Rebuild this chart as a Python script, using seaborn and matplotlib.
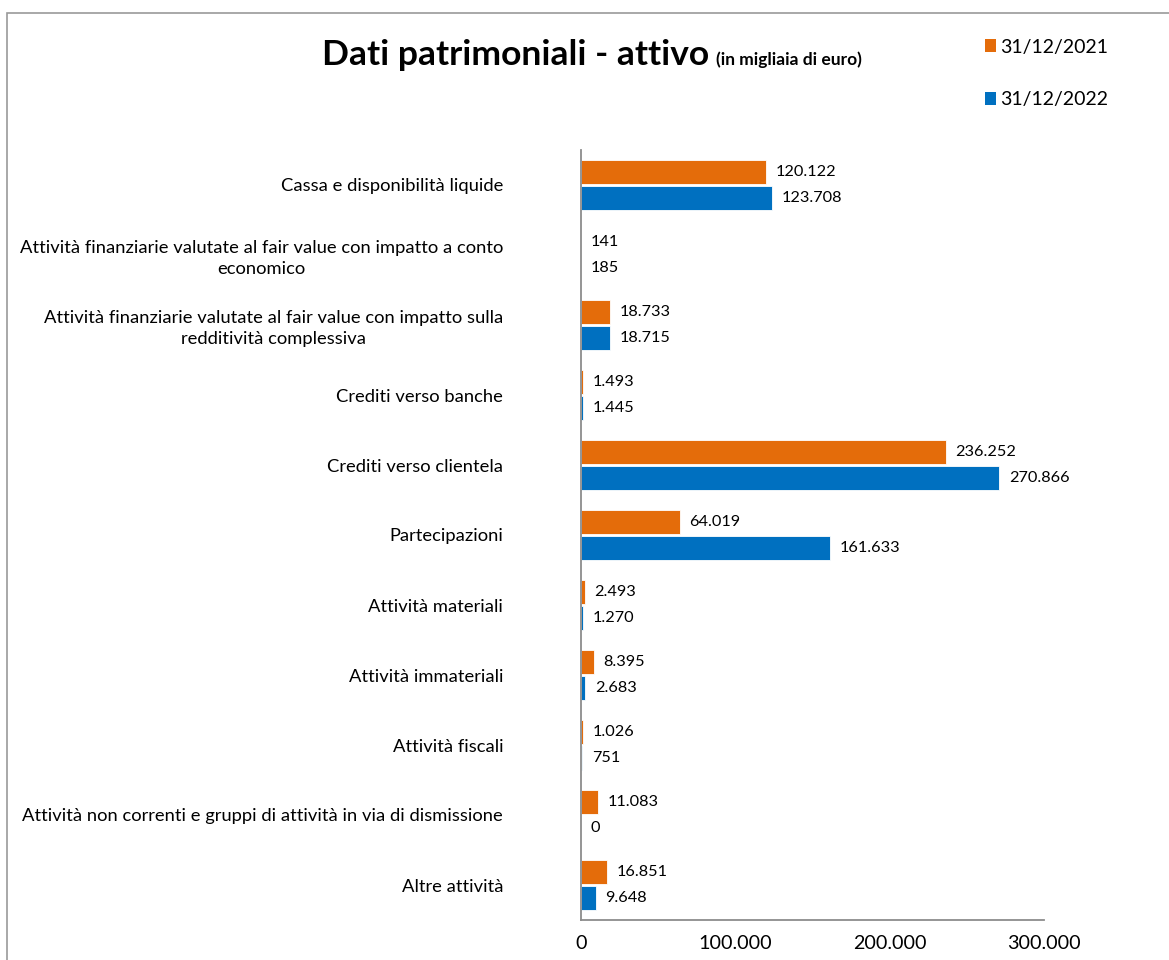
import matplotlib
matplotlib.use("Agg")
import matplotlib.pyplot as plt
import seaborn as sns
import pandas as pd
from matplotlib.patches import Patch, Rectangle
from matplotlib.ticker import FuncFormatter

categories = [
    "Cassa e disponibilità liquide",
    "Attività finanziarie valutate al fair value con impatto a conto\neconomico",
    "Attività finanziarie valutate al fair value con impatto sulla\nredditività complessiva",
    "Crediti verso banche",
    "Crediti verso clientela",
    "Partecipazioni",
    "Attività materiali",
    "Attività immateriali",
    "Attività fiscali",
    "Attività non correnti e gruppi di attività in via di dismissione",
    "Altre attività",
]
series_names = ["31/12/2021", "31/12/2022"]
values_2021 = [120122, 141, 18733, 1493, 236252, 64019, 2493, 8395, 1026, 11083, 16851]
values_2022 = [123708, 185, 18715, 1445, 270866, 161633, 1270, 2683, 751, 0, 9648]
x_ticks = [0, 100000, 200000, 300000]

colors = ["#E46C0A", "#0070C0"]

def fmt(v):
    return f"{int(v):,}".replace(",", ".")

df = pd.DataFrame({
    "cat": categories * 2,
    "val": values_2021 + values_2022,
    "serie": [series_names[0]] * len(categories) + [series_names[1]] * len(categories),
})

sns.set_style("white")
plt.rcParams["font.family"] = ["Lato", "DejaVu Sans"]
plt.rcParams["text.color"] = "black"
plt.rcParams["xtick.labelcolor"] = "black"
plt.rcParams["ytick.labelcolor"] = "black"

fig = plt.figure(figsize=(11.69, 9.6), dpi=100)
ax = fig.add_axes([581 / 1169, 1 - 920 / 960, (1044 - 581) / 1169, (920 - 150) / 960])

sns.barplot(data=df, y="cat", x="val", hue="serie", hue_order=series_names,
            palette=colors, orient="h", width=0.74, gap=0.08, ax=ax,
            legend=False, saturation=1, edgecolor="white", linewidth=0.6)

for cont, vals in zip(ax.containers, [values_2021, values_2022]):
    ax.bar_label(cont, labels=[fmt(v) for v in vals], padding=7, fontsize=11.7, color="black")

ax.set_xlim(0, 300000)
ax.set_xticks(x_ticks)
ax.xaxis.set_major_formatter(FuncFormatter(lambda v, p: fmt(v)))
ax.set_xlabel("")
ax.set_ylabel("")
for s in ["top", "right"]:
    ax.spines[s].set_visible(False)
for s in ["left", "bottom"]:
    ax.spines[s].set_color("#8c8c8c")
    ax.spines[s].set_linewidth(1.3)
ax.tick_params(axis="y", length=0, pad=56, labelsize=13.2, labelcolor="black")
ax.tick_params(axis="x", length=5, width=1.3, color="#8c8c8c", direction="out", pad=6,
               labelsize=14.2, labelcolor="black")
for lbl in ax.get_yticklabels():
    lbl.set_multialignment("center")
    lbl.set_linespacing(1.35)
ax.grid(False)

# outer chart border
fig.patches.append(Rectangle((7 / 1169, -0.1), 1.2, 1 - 13 / 960 + 0.1, transform=fig.transFigure,
                             fill=False, edgecolor="#9a9a9a", linewidth=1.2, zorder=0))

# title
t1 = fig.text(322 / 1169, 1 - 65 / 960, "Dati patrimoniali - attivo", fontsize=25.5,
              fontweight="bold", ha="left", va="baseline", color="black")
fig.canvas.draw()
bb = t1.get_window_extent()
fig.text((bb.x1 + 7) / 1169, 1 - 65 / 960, "(in migliaia di euro)", fontsize=12.5,
         fontweight="bold", ha="left", va="baseline", color="black")

handles = [Patch(facecolor=c, edgecolor="none") for c in colors]
leg = fig.legend(handles, series_names, loc="upper left", bbox_to_anchor=(967 / 1169, 1 - 21 / 960),
                 frameon=False, fontsize=14, handlelength=0.6, handleheight=0.6,
                 handletextpad=0.2, labelspacing=1.85)
for t in leg.get_texts():
    t.set_color("black")

fig.savefig("out.png", dpi=100, facecolor="white")
